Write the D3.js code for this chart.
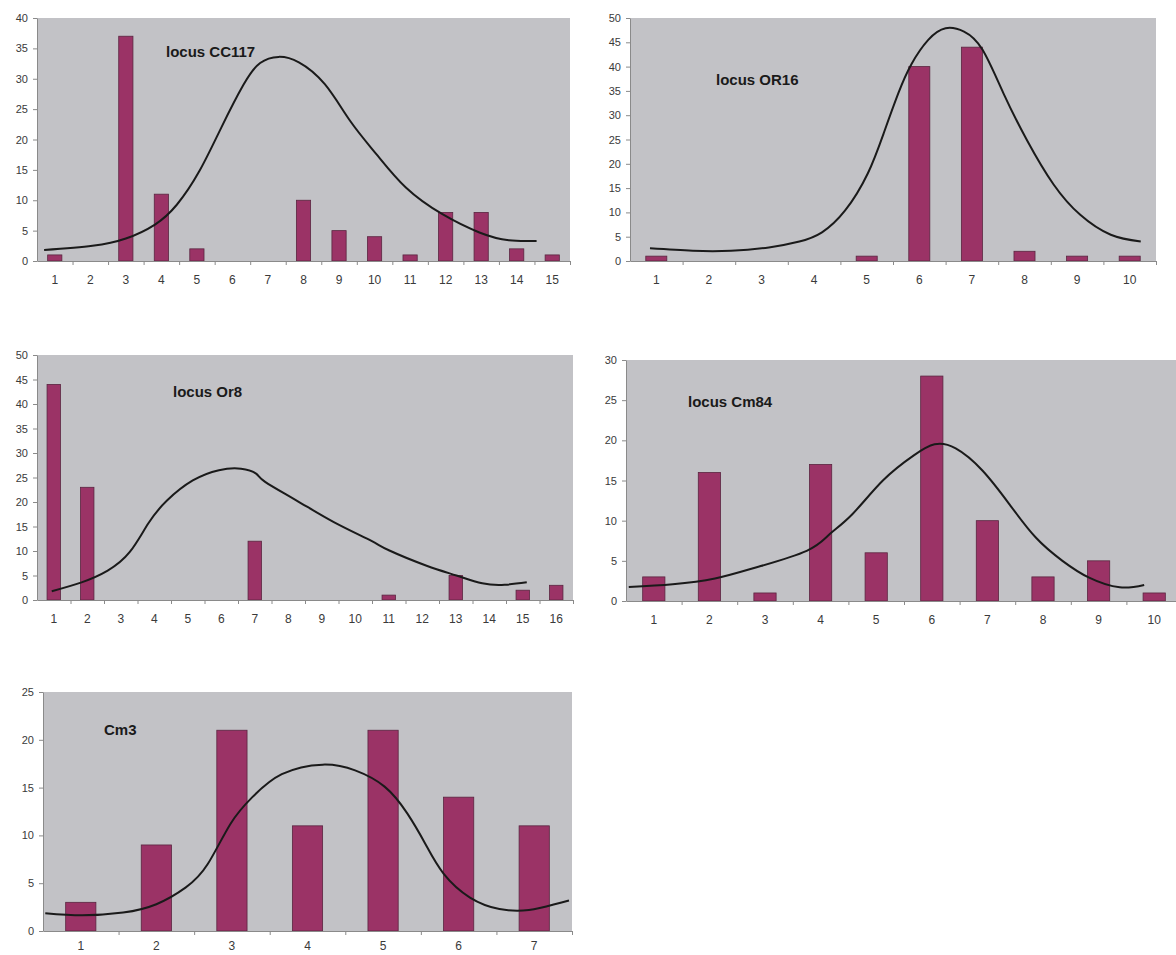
<!DOCTYPE html>
<html>
<head>
<meta charset="utf-8">
<script src="https://cdn.jsdelivr.net/npm/d3@7"></script>
<style>
  body { margin: 0; background: #fff; }
  svg { display: block; }
</style>
</head>
<body>
<svg id="chart" width="1176" height="955"></svg>
<script>
// locus CC117
const cc117Alleles = [1, 2, 3, 4, 5, 6, 7, 8, 9, 10, 11, 12, 13, 14, 15];
const cc117Counts = [1, 0, 37, 11, 2, 0, 0, 10, 5, 4, 1, 8, 8, 2, 1];
const cc117YTicks = [0, 5, 10, 15, 20, 25, 30, 35, 40];
const cc117CurveX = [0.7, 2.06, 3.0, 3.82, 4.44, 5.07, 5.69, 6.31, 6.78, 7.3, 7.87, 8.6, 9.32, 10.05, 10.88, 11.91, 12.95, 13.78, 14.56];
const cc117CurveY = [1.8, 2.5, 3.7, 6.0, 9.3, 14.8, 22.0, 29.0, 32.6, 33.6, 32.7, 29.1, 23.0, 17.6, 12.1, 7.7, 4.7, 3.4, 3.3];

// locus OR16
const or16Alleles = [1, 2, 3, 4, 5, 6, 7, 8, 9, 10];
const or16Counts = [1, 0, 0, 0, 1, 40, 44, 2, 1, 1];
const or16YTicks = [0, 5, 10, 15, 20, 25, 30, 35, 40, 45, 50];
const or16CurveX = [0.88, 1.69, 2.42, 3.14, 3.72, 4.15, 4.59, 5.02, 5.33, 5.6, 5.85, 6.17, 6.5, 6.85, 7.2, 7.6, 8.05, 8.55, 9.06, 9.64, 10.21];
const or16CurveY = [2.6, 2.1, 2.1, 2.8, 4.0, 5.9, 10.4, 18.0, 26.5, 34.5, 40.5, 45.5, 47.9, 47.2, 43.5, 34.5, 24.8, 15.8, 9.5, 5.4, 4.0];

// locus Or8
const or8Alleles = [1, 2, 3, 4, 5, 6, 7, 8, 9, 10, 11, 12, 13, 14, 15, 16];
const or8Counts = [44, 23, 0, 0, 0, 0, 12, 0, 0, 0, 1, 0, 5, 0, 2, 3];
const or8YTicks = [0, 5, 10, 15, 20, 25, 30, 35, 40, 45, 50];
const or8CurveX = [0.94, 1.83, 2.61, 3.27, 3.82, 4.38, 5.15, 5.93, 6.59, 7.04, 7.31, 8.25, 9.36, 10.47, 11.02, 12.13, 13.02, 13.79, 14.46, 15.12];
const or8CurveY = [1.8, 3.6, 6.0, 9.8, 15.6, 20.3, 24.4, 26.5, 26.8, 25.8, 24.1, 20.3, 15.9, 12.1, 10.1, 7.0, 5.0, 3.4, 3.1, 3.6];

// locus Cm84
const cm84Alleles = [1, 2, 3, 4, 5, 6, 7, 8, 9, 10];
const cm84Counts = [3, 16, 1, 17, 6, 28, 10, 3, 5, 1];
const cm84YTicks = [0, 5, 10, 15, 20, 25, 30];
const cm84CurveX = [0.55, 1.34, 2.1, 2.85, 3.75, 4.16, 4.57, 5.12, 5.67, 6.05, 6.43, 6.91, 7.39, 7.87, 8.35, 8.83, 9.38, 9.82];
const cm84CurveY = [1.75, 2.1, 2.8, 4.2, 6.25, 8.3, 10.8, 15.0, 18.1, 19.5, 19.0, 16.25, 12.1, 7.9, 5.0, 2.9, 1.7, 2.0];

// Cm3
const cm3Alleles = [1, 2, 3, 4, 5, 6, 7];
const cm3Counts = [3, 9, 21, 11, 21, 14, 11];
const cm3YTicks = [0, 5, 10, 15, 20, 25];
const cm3CurveX = [0.53, 1.02, 1.56, 2.0, 2.39, 2.68, 2.98, 3.27, 3.66, 4.2, 4.63, 5.02, 5.32, 5.56, 5.8, 6.15, 6.54, 6.93, 7.27, 7.46];
const cm3CurveY = [1.86, 1.65, 1.93, 2.8, 4.56, 7.0, 11.2, 14.0, 16.4, 17.4, 16.8, 15.1, 12.3, 9.1, 6.0, 3.5, 2.3, 2.2, 2.8, 3.2];

const panels = [
    { title: 'locus CC117', alleles: cc117Alleles, counts: cc117Counts, yTicks: cc117YTicks,
      curve: d3.zip(cc117CurveX, cc117CurveY),
      box: { left: 37, right: 570, top: 18, bottom: 261 }, titleAt: [166, 57], labelPad: 14 },
    { title: 'locus OR16', alleles: or16Alleles, counts: or16Counts, yTicks: or16YTicks,
      curve: d3.zip(or16CurveX, or16CurveY),
      box: { left: 630, right: 1156, top: 18, bottom: 261 }, titleAt: [716, 85], labelPad: 14 },
    { title: 'locus Or8', alleles: or8Alleles, counts: or8Counts, yTicks: or8YTicks,
      curve: d3.zip(or8CurveX, or8CurveY),
      box: { left: 37, right: 573, top: 355, bottom: 600 }, titleAt: [173, 397], labelPad: 14 },
    { title: 'locus Cm84', alleles: cm84Alleles, counts: cm84Counts, yTicks: cm84YTicks,
      curve: d3.zip(cm84CurveX, cm84CurveY),
      box: { left: 626, right: 1182, top: 360, bottom: 601 }, titleAt: [688, 407], labelPad: 14 },
    { title: 'Cm3', alleles: cm3Alleles, counts: cm3Counts, yTicks: cm3YTicks,
      curve: d3.zip(cm3CurveX, cm3CurveY),
      box: { left: 43, right: 572, top: 692, bottom: 931 }, titleAt: [104, 735], labelPad: 10 }
];

const svg = d3.select('#chart');
svg.append('rect').attr('width', 1176).attr('height', 955).attr('fill', '#fff');

panels.forEach(p => drawPanel(svg, p));

function drawPanel(svg, p) {
    const b = p.box;
    const g = svg.append('g');

    const x = d3.scaleBand()
        .domain(p.alleles)
        .range([b.left, b.right]);

    // continuous version of the category axis, for the curve and boundary ticks
    const xc = d3.scaleLinear()
        .domain([0.5, p.alleles.length + 0.5])
        .range([b.left, b.right]);

    const y = d3.scaleLinear()
        .domain([0, d3.max(p.yTicks)])
        .range([b.bottom, b.top]);

    g.append('rect')
        .attr('x', b.left)
        .attr('y', b.top)
        .attr('width', b.right - b.left)
        .attr('height', b.bottom - b.top)
        .attr('fill', '#c2c2c6');

    const data = p.alleles.map((a, i) => ({ allele: a, count: p.counts[i] }))
        .filter(d => d.count > 0);

    g.selectAll('rect.bar')
        .data(data)
        .enter()
        .append('rect')
        .attr('class', 'bar')
        .attr('x', d => x(d.allele) + x.bandwidth() * 0.3)
        .attr('y', d => y(d.count))
        .attr('width', x.bandwidth() * 0.4)
        .attr('height', d => y(0) - y(d.count))
        .attr('fill', '#9b3366')
        .attr('stroke', '#5a2540')
        .attr('stroke-width', 0.8);

    const line = d3.line()
        .x(d => xc(d[0]))
        .y(d => y(d[1]))
        .curve(d3.curveNatural);

    g.append('path')
        .datum(p.curve)
        .attr('d', line)
        .attr('fill', 'none')
        .attr('stroke', '#1a1a1a')
        .attr('stroke-width', 2);

    // y axis
    const yAxis = d3.axisLeft(y)
        .tickValues(p.yTicks)
        .tickSize(4)
        .tickSizeOuter(0)
        .tickPadding(5);
    const ya = g.append('g')
        .attr('transform', 'translate(' + b.left + ',0)')
        .call(yAxis);

    // x axis tick marks between categories
    const xTicks = d3.axisBottom(xc)
        .tickValues(p.alleles.map(a => a + 0.5))
        .tickFormat('')
        .tickSize(4)
        .tickSizeOuter(0);
    const xt = g.append('g')
        .attr('transform', 'translate(0,' + b.bottom + ')')
        .call(xTicks);

    // x axis category labels
    const xLabels = d3.axisBottom(x)
        .tickSize(0)
        .tickPadding(p.labelPad);
    const xl = g.append('g')
        .attr('transform', 'translate(0,' + b.bottom + ')')
        .call(xLabels);
    xl.select('.domain').remove();

    [ya, xt].forEach(a => {
        a.select('.domain').attr('stroke', '#8a8a8a');
        a.selectAll('.tick line').attr('stroke', '#8a8a8a');
    });
    ya.selectAll('text')
        .attr('font-family', 'Liberation Sans, Arial, sans-serif')
        .attr('font-size', 11)
        .attr('fill', '#3a3a3a');
    xl.selectAll('text')
        .attr('font-family', 'Liberation Sans, Arial, sans-serif')
        .attr('font-size', 12)
        .attr('fill', '#3a3a3a');

    g.append('text')
        .attr('x', p.titleAt[0])
        .attr('y', p.titleAt[1])
        .attr('font-family', 'Liberation Sans, Arial, sans-serif')
        .attr('font-weight', 'bold')
        .attr('font-size', 15)
        .attr('fill', '#1a1a1a')
        .text(p.title);
}
</script>
</body>
</html>
